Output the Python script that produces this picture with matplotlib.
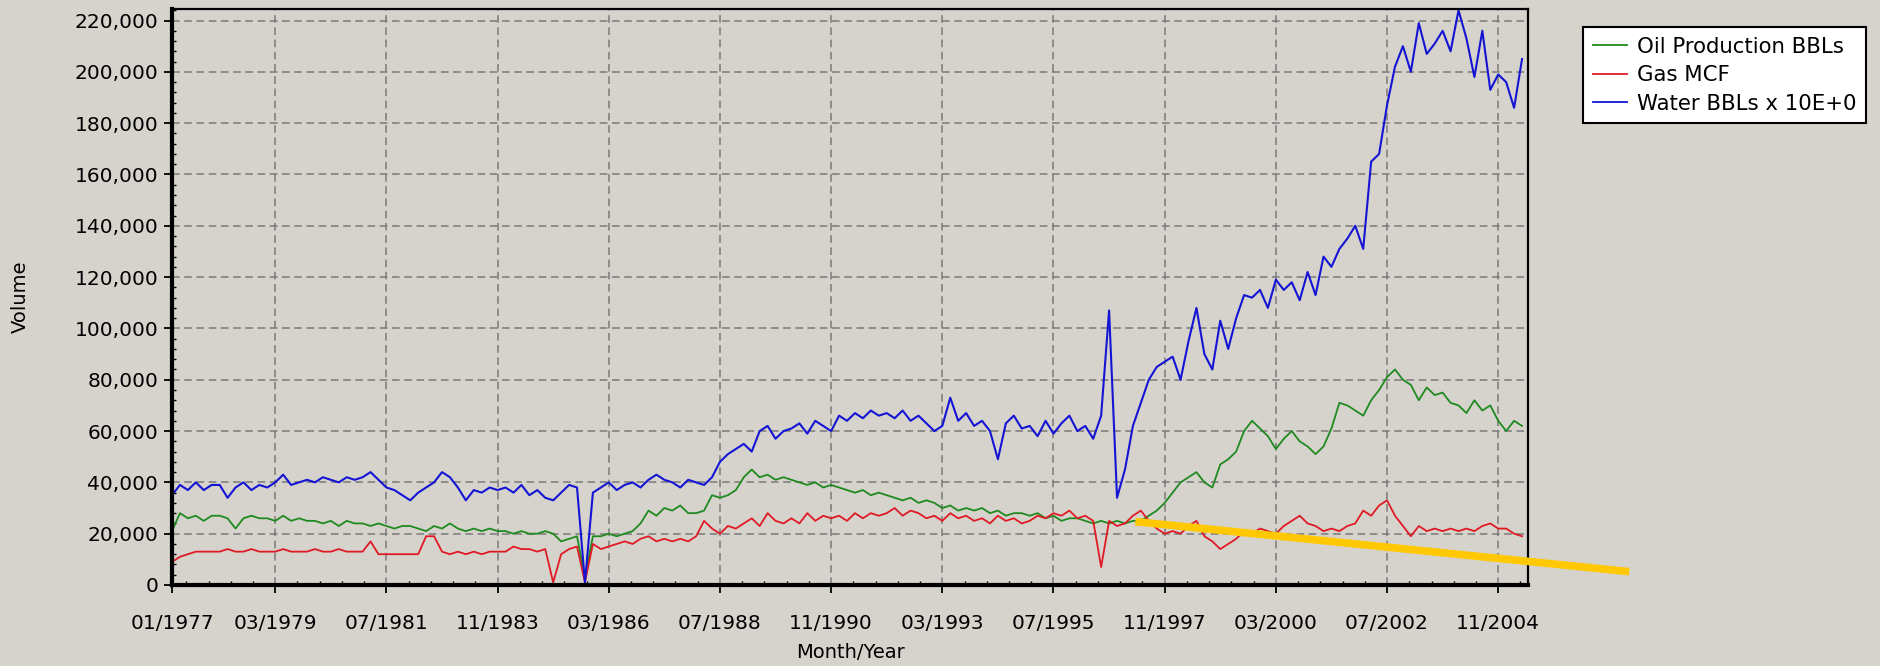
import matplotlib
matplotlib.use("Agg")
import matplotlib.pyplot as plt
from matplotlib.ticker import FixedLocator, MultipleLocator, FuncFormatter
import numpy as np
import pandas as pd

# ------------------------------------------------------------
# Data: bi-monthly samples (Jan, Mar, May, Jul, Sep, Nov), in thousands
# ------------------------------------------------------------
START = "1977-01"

oil_k = [
    21, 28, 26, 27, 25, 27,   # 1977
    27, 26, 22, 26, 27, 26,   # 1978
    26, 25, 27, 25, 26, 25,   # 1979
    25, 24, 25, 23, 25, 24,   # 1980
    24, 23, 24, 23, 22, 23,   # 1981
    23, 22, 21, 23, 22, 24,   # 1982
    22, 21, 22, 21, 22, 21,   # 1983
    21, 20, 21, 20, 20, 21,   # 1984
    20, 17, 18, 19, 3, 19,    # 1985
    19, 20, 19, 20, 21, 24,   # 1986
    29, 27, 30, 29, 31, 28,   # 1987
    28, 29, 35, 34, 35, 37,   # 1988
    42, 45, 42, 43, 41, 42,   # 1989
    41, 40, 39, 40, 38, 39,   # 1990
    38, 37, 36, 37, 35, 36,   # 1991
    35, 34, 33, 34, 32, 33,   # 1992
    32, 30, 31, 29, 30, 29,   # 1993
    30, 28, 29, 27, 28, 28,   # 1994
    27, 28, 26, 27, 25, 26,   # 1995
    26, 25, 24, 25, 24, 25,   # 1996
    24, 25, 25, 27, 29, 32,   # 1997
    36, 40, 42, 44, 40, 38,   # 1998
    47, 49, 52, 60, 64, 61,   # 1999
    58, 53, 57, 60, 56, 54,   # 2000
    51, 54, 61, 71, 70, 68,   # 2001
    66, 72, 76, 81, 84, 80,   # 2002
    78, 72, 77, 74, 75, 71,   # 2003
    70, 67, 72, 68, 70, 64,   # 2004
    60, 64, 62,               # 2005
]

gas_k = [
    9, 11, 12, 13, 13, 13,    # 1977
    13, 14, 13, 13, 14, 13,   # 1978
    13, 13, 14, 13, 13, 13,   # 1979
    14, 13, 13, 14, 13, 13,   # 1980
    13, 17, 12, 12, 12, 12,   # 1981
    12, 12, 19, 19, 13, 12,   # 1982
    13, 12, 13, 12, 13, 13,   # 1983
    13, 15, 14, 14, 13, 14,   # 1984
    1, 12, 14, 15, 1, 16,     # 1985
    14, 15, 16, 17, 16, 18,   # 1986
    19, 17, 18, 17, 18, 17,   # 1987
    19, 25, 22, 20, 23, 22,   # 1988
    24, 26, 23, 28, 25, 24,   # 1989
    26, 24, 28, 25, 27, 26,   # 1990
    27, 25, 28, 26, 28, 27,   # 1991
    28, 30, 27, 29, 28, 26,   # 1992
    27, 25, 28, 26, 27, 25,   # 1993
    26, 24, 27, 25, 26, 24,   # 1994
    25, 27, 26, 28, 27, 29,   # 1995
    26, 27, 25, 7, 25, 23,    # 1996
    24, 27, 29, 25, 22, 20,   # 1997
    21, 20, 23, 25, 19, 17,   # 1998
    14, 16, 18, 21, 20, 22,   # 1999
    21, 20, 23, 25, 27, 24,   # 2000
    23, 21, 22, 21, 23, 24,   # 2001
    29, 27, 31, 33, 27, 23,   # 2002
    19, 23, 21, 22, 21, 22,   # 2003
    21, 22, 21, 23, 24, 22,   # 2004
    22, 20, 19,               # 2005
]

water_k = [
    35, 39, 37, 40, 37, 39,         # 1977
    39, 34, 38, 40, 37, 39,         # 1978
    38, 40, 43, 39, 40, 41,         # 1979
    40, 42, 41, 40, 42, 41,         # 1980
    42, 44, 41, 38, 37, 35,         # 1981
    33, 36, 38, 40, 44, 42,         # 1982
    38, 33, 37, 36, 38, 37,         # 1983
    38, 36, 39, 35, 37, 34,         # 1984
    33, 36, 39, 38, 1, 36,          # 1985
    38, 40, 37, 39, 40, 38,         # 1986
    41, 43, 41, 40, 38, 41,         # 1987
    40, 39, 42, 48, 51, 53,         # 1988
    55, 52, 60, 62, 57, 60,         # 1989
    61, 63, 59, 64, 62, 60,         # 1990
    66, 64, 67, 65, 68, 66,         # 1991
    67, 65, 68, 64, 66, 63,         # 1992
    60, 62, 73, 64, 67, 62,         # 1993
    64, 60, 49, 63, 66, 61,         # 1994
    62, 58, 64, 59, 63, 66,         # 1995
    60, 62, 57, 66, 107, 34,        # 1996
    45, 62, 71, 80, 85, 87,         # 1997
    89, 80, 95, 108, 90, 84,        # 1998
    103, 92, 104, 113, 112, 115,    # 1999
    108, 119, 115, 118, 111, 122,   # 2000
    113, 128, 124, 131, 135, 140,   # 2001
    131, 165, 168, 187, 202, 210,   # 2002
    200, 219, 207, 211, 216, 208,   # 2003
    224, 213, 198, 216, 193, 199,   # 2004
    196, 186, 205,                  # 2005
]

tick_labels = ["01/1977", "03/1979", "07/1981", "11/1983", "03/1986",
               "07/1988", "11/1990", "03/1993", "07/1995", "11/1997",
               "03/2000", "07/2002", "11/2004"]

series_names = ["Oil Production BBLs", "Gas MCF", "Water BBLs x 10E+0"]

# hand-drawn highlight line (month index, volume)
highlight_x = [242.6, 367.0]
highlight_y = [24700, 5200]

# ------------------------------------------------------------
# Styling
# ------------------------------------------------------------
BG = "#d6d3cd"
C_OIL = "#1f8a1f"
C_GAS = "#e01a24"
C_WATER = "#1414d4"
FS = 14.5

plt.rcParams["font.family"] = "DejaVu Sans"


def month_index(dt):
    return (dt.year - 1977) * 12 + dt.month - 1


dates = pd.date_range(START, periods=len(oil_k), freq="2MS")
x = np.asarray(month_index(dates))
tick_pos = np.asarray(month_index(pd.to_datetime(tick_labels, format="%m/%Y")))

fig = plt.figure(figsize=(18.8, 6.66), dpi=100, facecolor=BG)
ax = fig.add_axes([172 / 1880, 1 - 585 / 666, (1528 - 172) / 1880, (585 - 9) / 666])
ax.set_facecolor(BG)

h_oil, = ax.plot(x, np.array(oil_k) * 1000, color=C_OIL, lw=1.3)
h_gas, = ax.plot(x, np.array(gas_k) * 1000, color=C_GAS, lw=1.3)
h_wat, = ax.plot(x, np.array(water_k) * 1000, color=C_WATER, lw=1.5)

ax.plot(highlight_x, highlight_y, color="#ffc800", lw=5.5,
        solid_capstyle="butt", clip_on=False, zorder=5)

ax.set_xlim(0, 341.5)
ax.set_ylim(0, 224500)

ax.xaxis.set_major_locator(FixedLocator(tick_pos))
ax.set_xticklabels(tick_labels)
ax.xaxis.set_minor_locator(FixedLocator(np.arange(tick_pos[1] - 28, 342, 5.6)))
ax.yaxis.set_major_locator(MultipleLocator(20000))
ax.yaxis.set_minor_locator(MultipleLocator(4000))
ax.yaxis.set_major_formatter(FuncFormatter(lambda v, _: f"{v:,.0f}"))

ax.tick_params(which="major", direction="out", length=6, width=1.3,
               labelsize=FS, colors="black")
ax.tick_params(axis="x", which="major", pad=15)
ax.tick_params(axis="y", which="major", pad=4)
ax.tick_params(which="minor", direction="in", length=3, width=1.0)

ax.grid(True, which="major", color="#7a7a7a", lw=1.1, linestyle=(0, (5, 3)))
ax.set_axisbelow(True)

for side in ("left", "bottom"):
    ax.spines[side].set_linewidth(3)
for side in ("top", "right"):
    ax.spines[side].set_linewidth(1.6)

ax.set_xlabel("Month/Year", fontsize=14, labelpad=7)
ax.set_ylabel("Volume", fontsize=14, labelpad=32)

leg = fig.legend([h_oil, h_gas, h_wat], series_names,
                 loc="upper left", bbox_to_anchor=(1583 / 1880, 1 - 27 / 666),
                 fontsize=15.3, frameon=True, fancybox=False, framealpha=1,
                 facecolor="white", edgecolor="black", handlelength=1.6,
                 handletextpad=0.5, labelspacing=0.4, borderpad=0.45,
                 borderaxespad=0)
leg.get_frame().set_linewidth(1.5)
for line in leg.get_lines():
    line.set_linewidth(1.3)

fig.savefig("out.png", dpi=100, facecolor=BG)
